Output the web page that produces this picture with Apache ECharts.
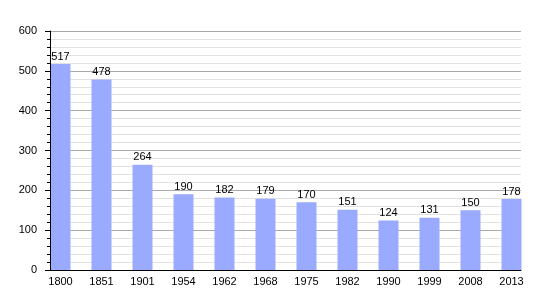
<!DOCTYPE html>
<html><head><meta charset="utf-8">
<script src="https://cdn.jsdelivr.net/npm/echarts@6/dist/echarts.min.js"></script>
<style>html,body{margin:0;padding:0;background:#fff}#c{width:550px;height:300px}</style>
</head><body><div id="c"></div>
<script>
const years = ['1800','1851','1901','1954','1962','1968','1975','1982','1990','1999','2008','2013'];
const population = [517,478,264,190,182,179,170,151,124,131,150,178];
const yTicks = {min:0, max:600, interval:100};

const chart = echarts.init(document.getElementById('c'), null, {renderer:'canvas'});
const font = 'Liberation Sans, Arial, sans-serif';
chart.setOption({
  animation:false,
  grid:[
    {left:50, right:29, top:31, bottom:30},
    {left:40, right:18, top:31, bottom:30}
  ],
  xAxis:[
    {gridIndex:0, type:'value', min:0, max:1, axisLine:{show:true,onZero:false,lineStyle:{color:'#000',width:1}},
     axisTick:{show:false}, axisLabel:{show:false}, splitLine:{show:false}},
    {gridIndex:1, type:'category', data:years, boundaryGap:true,
     axisLine:{show:false}, axisTick:{show:false},
     axisLabel:{color:'#000', fontSize:11, fontFamily:font, margin:6, interval:0}}
  ],
  yAxis:[
    {gridIndex:0, type:'value', min:yTicks.min, max:yTicks.max, interval:yTicks.interval,
     axisLine:{show:false},
     axisTick:{show:true, inside:false, length:5, lineStyle:{color:'#000'}},
     minorTick:{show:true, splitNumber:5, length:3, lineStyle:{color:'#000'}},
     axisLabel:{color:'#000', fontSize:11, fontFamily:font, margin:13},
     splitLine:{show:true, lineStyle:{color:'#aaaaaa', width:1}},
     minorSplitLine:{show:true, lineStyle:{color:'#e2e2e2', width:1}}},
    {gridIndex:1, type:'value', min:yTicks.min, max:yTicks.max, interval:yTicks.interval,
     offset:-10, z:5,
     axisLine:{show:true, lineStyle:{color:'#000',width:1}},
     axisTick:{show:false}, axisLabel:{show:false}, splitLine:{show:false}}
  ],
  series:[{
    type:'bar', xAxisIndex:1, yAxisIndex:1, data:population, barWidth:20,
    itemStyle:{color:'#99aaff'},
    label:{show:true, position:'top', distance:2, color:'#000', fontSize:11, fontFamily:font}
  }]
});
</script></body></html>
